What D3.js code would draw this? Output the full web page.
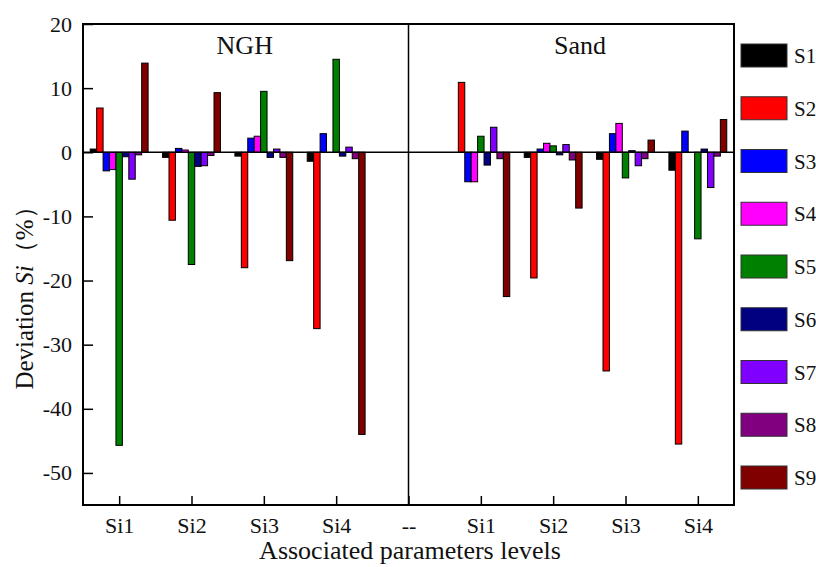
<!DOCTYPE html>
<html>
<head>
<meta charset="utf-8">
<script src="https://cdn.jsdelivr.net/npm/d3@7"></script>
<style>
  html, body { margin: 0; padding: 0; background: #fff; }
  svg { display: block; }
  text { font-family: "Liberation Serif", "Times New Roman", serif; fill: #111; }
</style>
</head>
<body>
<svg id="chart" width="816" height="567"></svg>
<script>
// Category slots along the x axis ("--" separates the two panels)
const categories = ["Si1", "Si2", "Si3", "Si4", "--", "Si1", "Si2", "Si3", "Si4"];
const panels = ["NGH", "Sand"];
const levels = ["Si1", "Si2", "Si3", "Si4"];
const seriesNames = ["S1", "S2", "S3", "S4", "S5", "S6", "S7", "S8", "S9"];
const seriesColors = ["#000000", "#ff0000", "#0000ff", "#ff00ff", "#008000",
                      "#000080", "#8000ff", "#800080", "#800000"];

// Deviation Si (%) per series: NGH Si1..Si4
const nghValues = [
  [0.5, -0.8, -0.6, -1.4],     // S1
  [6.9, -10.6, -18.0, -27.5],  // S2
  [-2.9, 0.6, 2.2, 2.9],       // S3
  [-2.7, 0.35, 2.5, 0.0],      // S4
  [-45.7, -17.5, 9.5, 14.5],   // S5
  [-0.7, -2.2, -0.8, -0.6],    // S6
  [-4.2, -2.1, 0.5, 0.8],      // S7
  [-0.4, -0.5, -0.8, -1.0],    // S8
  [13.9, 9.3, -16.9, -44.0]    // S9
];
// Deviation Si (%) per series: Sand Si1..Si4
const sandValues = [
  [0.0, -0.8, -1.1, -2.8],     // S1
  [10.9, -19.6, -34.1, -45.5], // S2
  [-4.6, 0.5, 2.9, 3.3],       // S3
  [-4.6, 1.4, 4.5, 0.0],       // S4
  [2.5, 1.0, -4.0, -13.5],     // S5
  [-2.0, -0.4, 0.25, 0.5],     // S6
  [3.9, 1.2, -2.1, -5.5],      // S7
  [-1.0, -1.2, -1.0, -0.6],    // S8
  [-22.5, -8.7, 1.9, 5.1]      // S9
];
const yTicks = [20, 10, 0, -10, -20, -30, -40, -50];

const svg = d3.select("#chart");
const plotLeft = 83, plotRight = 734, plotTop = 24, plotBottom = 505;
const serif = "'Liberation Serif', 'Times New Roman', serif";

const x = d3.scaleLinear().domain([0.5, categories.length + 0.5]).range([plotLeft, plotRight]);
const y = d3.scaleLinear().domain([-55, 20]).range([plotBottom, plotTop]);
const step = x(2) - x(1);
const inner = d3.scaleBand().domain(seriesNames).range([-step * 0.4, step * 0.4]).padding(0);

// Flatten values into bar records; NGH uses slots 1-4, Sand uses slots 6-9
const bars = [];
seriesNames.forEach((s, si) => {
  levels.forEach((lv, li) => {
    bars.push({ series: s, color: seriesColors[si], slot: li + 1, value: nghValues[si][li] });
    bars.push({ series: s, color: seriesColors[si], slot: li + 6, value: sandValues[si][li] });
  });
});

svg.append("g")
  .selectAll("rect")
  .data(bars)
  .join("rect")
  .attr("x", d => x(d.slot) + inner(d.series))
  .attr("width", inner.bandwidth())
  .attr("y", d => y(Math.max(0, d.value)))
  .attr("height", d => Math.abs(y(d.value) - y(0)))
  .attr("fill", d => d.color)
  .attr("stroke", "#000")
  .attr("stroke-width", 1);

// zero line
svg.append("line")
  .attr("x1", plotLeft).attr("x2", plotRight)
  .attr("y1", y(0)).attr("y2", y(0))
  .attr("stroke", "#000").attr("stroke-width", 1.5);

// y axis with inward ticks
const yAxis = svg.append("g")
  .attr("transform", `translate(${plotLeft},0)`)
  .call(d3.axisLeft(y).tickValues(yTicks).tickFormat(d => String(d)).tickSize(-10).tickPadding(11));
yAxis.attr("font-family", null).attr("font-size", null);
yAxis.select(".domain").remove();
yAxis.selectAll(".tick line").attr("stroke", "#000").attr("stroke-width", 1.5);
yAxis.selectAll(".tick text").style("font-size", "22px").style("font-family", serif).attr("fill", "#111");

// x axis with inward ticks
const xAxis = svg.append("g")
  .attr("transform", `translate(0,${plotBottom})`)
  .call(d3.axisBottom(x).tickValues(d3.range(1, categories.length + 1))
    .tickFormat(d => categories[d - 1]).tickSize(-9).tickPadding(0));
xAxis.attr("font-family", null).attr("font-size", null);
xAxis.select(".domain").remove();
xAxis.selectAll(".tick line").attr("stroke", "#000").attr("stroke-width", 1.5);
xAxis.selectAll(".tick text")
  .attr("y", 28).attr("dy", null)
  .style("font-size", "22px").style("font-family", serif).attr("fill", "#111");

// panel divider and frame
svg.append("line")
  .attr("x1", x(5)).attr("x2", x(5))
  .attr("y1", plotTop).attr("y2", plotBottom)
  .attr("stroke", "#000").attr("stroke-width", 1.5);
svg.append("rect")
  .attr("x", plotLeft).attr("y", plotTop)
  .attr("width", plotRight - plotLeft).attr("height", plotBottom - plotTop)
  .attr("fill", "none").attr("stroke", "#000").attr("stroke-width", 2);

// panel titles
svg.append("text")
  .attr("x", (x(0.5) + x(5)) / 2 - 1).attr("y", 54)
  .attr("text-anchor", "middle").style("font-size", "26px")
  .text(panels[0]);
svg.append("text")
  .attr("x", 580).attr("y", 54)
  .attr("text-anchor", "middle").style("font-size", "26px")
  .text(panels[1]);

// axis titles
svg.append("text")
  .attr("x", 410).attr("y", 559)
  .attr("text-anchor", "middle").style("font-size", "26px")
  .text("Associated parameters levels");

const yTitle = svg.append("text")
  .attr("transform", "translate(33,292) rotate(-90)")
  .attr("text-anchor", "middle").style("font-size", "25px");
yTitle.append("tspan").text("Deviation ");
yTitle.append("tspan").style("font-style", "italic").text("Si");
yTitle.append("tspan").text("（%）");

// legend
const legend = svg.append("g").attr("transform", "translate(741,44)");
const item = legend.selectAll("g")
  .data(seriesNames)
  .join("g")
  .attr("transform", (d, i) => `translate(0,${i * 52.75})`);
item.append("rect")
  .attr("width", 46).attr("height", 23)
  .attr("fill", (d, i) => seriesColors[i])
  .attr("stroke", "#333").attr("stroke-width", 1);
item.append("text")
  .attr("x", 53).attr("y", 19)
  .style("font-size", "21px")
  .text(d => d);
</script>
</body>
</html>
